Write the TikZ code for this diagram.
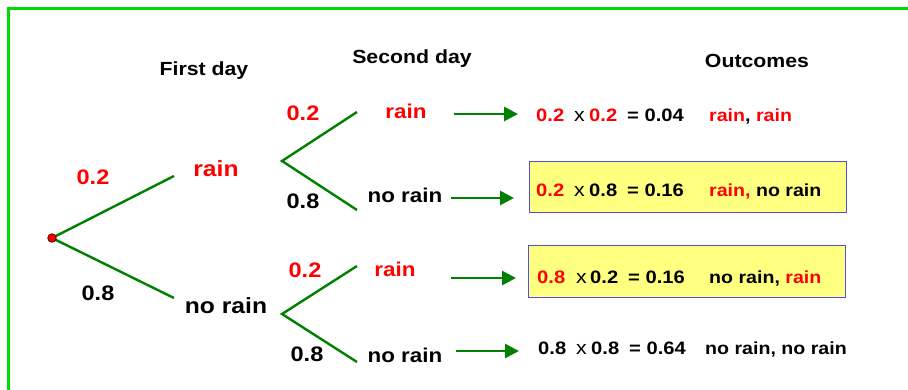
\documentclass[tikz,border=0pt]{standalone}
\usepackage{fontspec}
\setmainfont[FakeStretch=1.12]{Liberation Sans}
\usetikzlibrary{arrows.meta}
\definecolor{frameg}{RGB}{0,220,0}
\definecolor{treeg}{RGB}{0,128,0}
\definecolor{rd}{RGB}{255,0,0}
\definecolor{boxy}{RGB}{255,255,128}
\definecolor{boxb}{RGB}{80,80,224}
\tikzset{
  lbl/.style={inner sep=0pt, font=\bfseries\fontsize{#1}{#1}\selectfont},
  lbl/.default=21,
  branch/.style={treeg, line width=2.4pt},
  arr/.style={treeg, line width=2.8pt, -{Triangle[length=14pt,width=14pt]}},
  outbox/.style={draw=boxb, fill=boxy, line width=1.3pt, rectangle, inner sep=0pt},
  frame/.style={frameg, line width=3pt},
  tx/.style={inner sep=0pt, anchor=base west, font=\bfseries\fontsize{18}{18}\selectfont},
  ow/.style={inner sep=0pt, anchor=base west, font=\bfseries\fontsize{17.5}{18}\selectfont},
  tim/.style={inner sep=0pt, anchor=base west, font=\mdseries\fontsize{19}{19}\selectfont}
}
\begin{document}
\begin{tikzpicture}[x=1pt,y=-1pt]
\useasboundingbox (0,0) rectangle (908,389);
% frame
\coordinate (fbl) at (8,392);
\coordinate (ftl) at (8,8);
\coordinate (ftr) at (912,8);
\draw[frame] (fbl) -- (ftl) -- (ftr);
% headings
\node[lbl=19] (h1) at (204,71) {First day};
\node[lbl=19] (h2) at (412,59) {Second day};
\node[lbl=19] (h3) at (757,61) {Outcomes};
% tree
\coordinate (b1) at (174,176);
\coordinate (b2) at (174,298);
\coordinate (r0) at (52,238);
\draw[branch] (r0) -- (b1);
\draw[branch] (r0) -- (b2);
\node[circle, fill=rd, draw=black!70!red, line width=0.8pt, inner sep=0pt, minimum size=8.5pt] (root) at (r0) {};
\node[lbl=21, rd] (p1) at (93,177) {0.2};
\node[lbl=21] (p2) at (98,293) {0.8};
\node[lbl=22, rd] (f1) at (216,169) {rain};
\node[lbl=22] (f2) at (226,306) {no rain};
% second level
\coordinate (v1) at (282,161);
\coordinate (c11) at (357,112);
\coordinate (c12) at (357,210);
\draw[branch] (c11) -- (v1) -- (c12);
\coordinate (v2) at (282,314);
\coordinate (c21) at (357,266);
\coordinate (c22) at (357,362);
\draw[branch] (c21) -- (v2) -- (c22);
\node[lbl=21, rd] (q1) at (303,113) {0.2};
\node[lbl=21] (q2) at (303,201) {0.8};
\node[lbl=21, rd] (q3) at (305,270) {0.2};
\node[lbl=21] (q4) at (307,354) {0.8};
\node[lbl=20, rd] (s1) at (406,111) {rain};
\node[lbl=20] (s2) at (405,195) {no rain};
\node[lbl=20, rd] (s3) at (395,269) {rain};
\node[lbl=20] (s4) at (405,355) {no rain};
% boxes
\node[outbox, minimum width=317pt, minimum height=51pt, anchor=north west] (box2) at (529,161) {};
\node[outbox, minimum width=317pt, minimum height=52pt, anchor=north west] (box3) at (528,245) {};
% arrows
\coordinate (a1s) at (454,114); \coordinate (a1e) at (518,114);
\coordinate (a2s) at (451,198); \coordinate (a2e) at (514,198);
\coordinate (a3s) at (451,278); \coordinate (a3e) at (516,278);
\coordinate (a4s) at (456,351); \coordinate (a4e) at (519,351);
\draw[arr] (a1s) -- (a1e);
\draw[arr] (a2s) -- (a2e);
\draw[arr] (a3s) -- (a3e);
\draw[arr] (a4s) -- (a4e);
% outcomes row 1
\node[tx, rd] (e1a) at (536,121.5) {0.2};
\node[tim] (e1x) at (574,121.5) {x};
\node[tx, rd] (e1b) at (589,121.5) {0.2};
\node[tx] (e1c) at (627,121.5) {= 0.04};
\node[ow] (o1) at (709,121.5) {\textcolor{rd}{rain}, \textcolor{rd}{rain}};
% row 2
\node[tx, rd] (e2a) at (536,196.5) {0.2};
\node[tim] (e2x) at (574,196.5) {x};
\node[tx] (e2b) at (589,196.5) {0.8};
\node[tx] (e2c) at (627,196.5) {= 0.16};
\node[ow] (o2) at (709,196.5) {\textcolor{rd}{rain,} no rain};
% row 3
\node[tx, rd] (e3a) at (537,283.5) {0.8};
\node[tim] (e3x) at (576,283.5) {x};
\node[tx] (e3b) at (590,283.5) {0.2};
\node[tx] (e3c) at (628,283.5) {= 0.16};
\node[ow] (o3) at (709,283.5) {no rain, \textcolor{rd}{rain}};
% row 4
\node[tx] (e4a) at (538,354.5) {0.8};
\node[tim] (e4x) at (576,354.5) {x};
\node[tx] (e4b) at (591,354.5) {0.8};
\node[tx] (e4c) at (629,354.5) {= 0.64};
\node[ow] (o4) at (705,354.5) {no rain, no rain};
\end{tikzpicture}
\end{document}
